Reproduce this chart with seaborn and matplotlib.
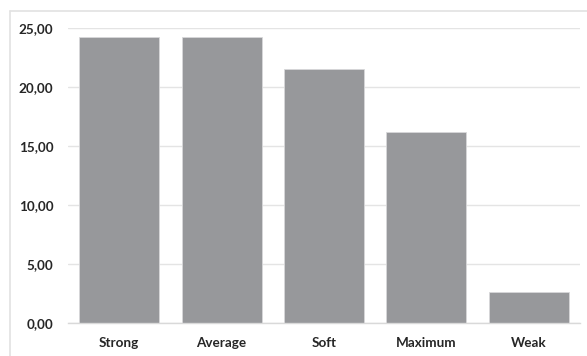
import matplotlib
matplotlib.use("Agg")
import matplotlib.pyplot as plt
from matplotlib.ticker import FuncFormatter, MultipleLocator
from matplotlib.lines import Line2D
import seaborn as sns
import pandas as pd

categories = ["Strong", "Average", "Soft", "Maximum", "Weak"]
values = [24.30, 24.30, 21.60, 16.20, 2.68]

sns.set_theme(style="white")
plt.rcParams["font.family"] = ["Lato", "DejaVu Sans"]

df = pd.DataFrame({"category": categories, "value": values})

fig = plt.figure(figsize=(5.87, 3.56), dpi=100)
ax = fig.add_axes([68 / 587, 1 - 323.3 / 356, (580 - 68) / 587, (323.3 - 28.4) / 356])

sns.barplot(data=df, x="category", y="value", color="#97989b", saturation=1,
            width=0.78, edgecolor="#d8d8da", linewidth=0.6, ax=ax, zorder=2)

ax.set_ylim(0, 25)
ax.set_xlim(-0.5, 4.5)
ax.yaxis.set_major_locator(MultipleLocator(5))
ax.yaxis.set_major_formatter(FuncFormatter(lambda v, _: f"{v:.2f}".replace(".", ",")))
ax.grid(axis="y", color="#e4e4e4", linewidth=1.0, zorder=0)
ax.set_axisbelow(True)
for s in ["top", "right", "left"]:
    ax.spines[s].set_visible(False)
ax.spines["bottom"].set_color("#d9d9d9")
ax.spines["bottom"].set_linewidth(1.0)
ax.set_xlabel("")
ax.set_ylabel("")
ax.tick_params(axis="both", length=0, labelsize=9.7, labelcolor="#262626")
ax.tick_params(axis="y", pad=10.5)
ax.tick_params(axis="x", pad=10)
for lbl in ax.get_xticklabels() + ax.get_yticklabels():
    lbl.set_fontweight("bold")

# chart frame on the top and left edges
fig.add_artist(Line2D([10 / 587, 10 / 587], [0, 1 - 10.5 / 356],
                      transform=fig.transFigure, color="#e2e2e2", linewidth=1.2))
fig.add_artist(Line2D([10 / 587, 1], [1 - 10.5 / 356, 1 - 10.5 / 356],
                      transform=fig.transFigure, color="#e2e2e2", linewidth=1.2))

fig.savefig("out.png", dpi=100)
